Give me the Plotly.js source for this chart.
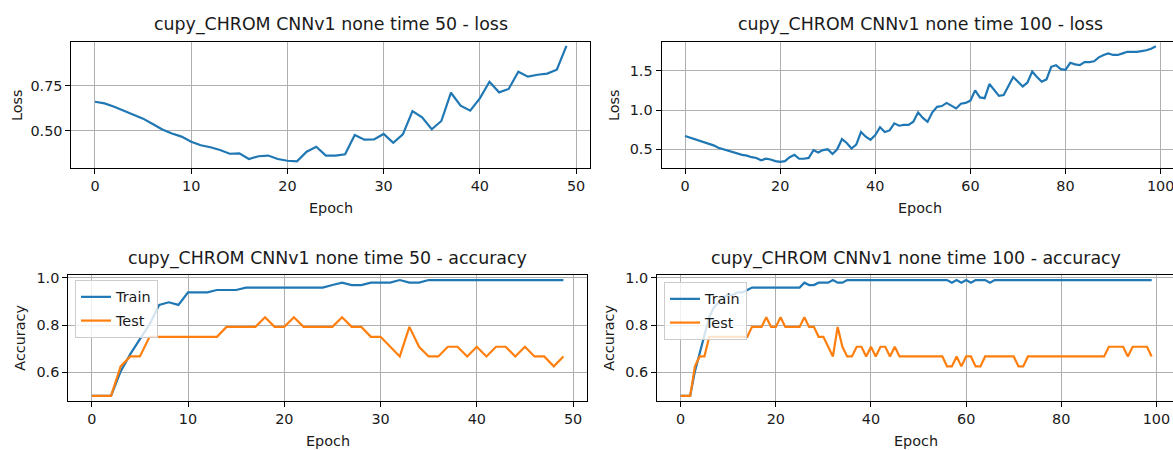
<!DOCTYPE html>
<html>
<head>
<meta charset="utf-8">
<script src="https://cdn.plot.ly/plotly-3.0.1.min.js"></script>
<style>
  html, body { margin: 0; padding: 0; background: #ffffff; }
  #chart { width: 1173px; height: 450px; }
</style>
</head>
<body>
<div id="chart"></div>
<script>
// ---- training history: loss and accuracy per epoch ----
const lossRun50 = [
  0.661, 0.652, 0.633, 0.611, 0.589, 0.567, 0.537, 0.507, 0.484, 0.467,
  0.439, 0.419, 0.408, 0.393, 0.372, 0.374, 0.343, 0.358, 0.362, 0.343,
  0.333, 0.330, 0.383, 0.411, 0.362, 0.362, 0.369, 0.476, 0.450, 0.452,
  0.482, 0.433, 0.480, 0.609, 0.574, 0.508, 0.554, 0.711, 0.639, 0.611,
  0.680, 0.772, 0.713, 0.732, 0.828, 0.800, 0.811, 0.817, 0.839, 0.971
];

const lossRun100 = [
  0.67, 0.65, 0.63, 0.61, 0.59, 0.57, 0.55, 0.52, 0.50, 0.48,
  0.46, 0.44, 0.43, 0.42, 0.40, 0.39, 0.36, 0.38, 0.37, 0.35,
  0.34, 0.35, 0.40, 0.43, 0.38, 0.38, 0.39, 0.49, 0.46, 0.49,
  0.50, 0.44, 0.50, 0.63, 0.58, 0.51, 0.56, 0.72, 0.66, 0.62,
  0.68, 0.78, 0.72, 0.74, 0.83, 0.80, 0.81, 0.81, 0.85, 0.97,
  0.90, 0.85, 0.97, 1.04, 1.05, 1.09, 1.06, 1.02, 1.08, 1.09,
  1.12, 1.25, 1.16, 1.15, 1.33, 1.25, 1.18, 1.19, 1.30, 1.42,
  1.36, 1.30, 1.35, 1.49, 1.42, 1.36, 1.39, 1.55, 1.57, 1.52,
  1.51, 1.60, 1.58, 1.57, 1.61, 1.61, 1.62, 1.67, 1.70, 1.72,
  1.70, 1.70, 1.72, 1.74, 1.74, 1.74, 1.75, 1.76, 1.78, 1.81
];

const trainAccRun50 = [
  0.500, 0.500, 0.500, 0.604, 0.677, 0.740, 0.802, 0.885, 0.896, 0.885,
  0.938, 0.938, 0.938, 0.948, 0.948, 0.948, 0.958, 0.958, 0.958, 0.958,
  0.958, 0.958, 0.958, 0.958, 0.958, 0.969, 0.979, 0.969, 0.969, 0.979,
  0.979, 0.979, 0.990, 0.979, 0.979, 0.990, 0.990, 0.990, 0.990, 0.990,
  0.990, 0.990, 0.990, 0.990, 0.990, 0.990, 0.990, 0.990, 0.990, 0.990
];

const testAccRun50 = [
  0.500, 0.500, 0.500, 0.625, 0.667, 0.667, 0.750, 0.750, 0.750, 0.750,
  0.750, 0.750, 0.750, 0.750, 0.792, 0.792, 0.792, 0.792, 0.833, 0.792,
  0.792, 0.833, 0.792, 0.792, 0.792, 0.792, 0.833, 0.792, 0.792, 0.750,
  0.750, 0.708, 0.667, 0.792, 0.708, 0.667, 0.667, 0.708, 0.708, 0.667,
  0.708, 0.667, 0.708, 0.708, 0.667, 0.708, 0.667, 0.667, 0.625, 0.667
];

const trainAccRun100 = [
  0.500, 0.500, 0.500, 0.604, 0.677, 0.750, 0.833, 0.875, 0.896, 0.917,
  0.927, 0.927, 0.938, 0.938, 0.948, 0.958, 0.958, 0.958, 0.958, 0.958,
  0.958, 0.958, 0.958, 0.958, 0.958, 0.958, 0.979, 0.969, 0.969, 0.979,
  0.979, 0.979, 0.990, 0.979, 0.979, 0.990, 0.990, 0.990, 0.990, 0.990,
  0.990, 0.990, 0.990, 0.990, 0.990, 0.990, 0.990, 0.990, 0.990, 0.990,
  0.990, 0.990, 0.990, 0.990, 0.990, 0.990, 0.990, 0.979, 0.990, 0.979,
  0.990, 0.979, 0.990, 0.990, 0.990, 0.979, 0.990, 0.990, 0.990, 0.990,
  0.990, 0.990, 0.990, 0.990, 0.990, 0.990, 0.990, 0.990, 0.990, 0.990,
  0.990, 0.990, 0.990, 0.990, 0.990, 0.990, 0.990, 0.990, 0.990, 0.990,
  0.990, 0.990, 0.990, 0.990, 0.990, 0.990, 0.990, 0.990, 0.990, 0.990
];

const testAccRun100 = [
  0.500, 0.500, 0.500, 0.625, 0.667, 0.667, 0.750, 0.750, 0.750, 0.750,
  0.750, 0.750, 0.750, 0.750, 0.750, 0.792, 0.792, 0.792, 0.833, 0.792,
  0.792, 0.833, 0.792, 0.792, 0.792, 0.792, 0.833, 0.792, 0.792, 0.750,
  0.750, 0.708, 0.667, 0.792, 0.708, 0.667, 0.667, 0.708, 0.708, 0.667,
  0.708, 0.667, 0.708, 0.708, 0.667, 0.708, 0.667, 0.667, 0.667, 0.667,
  0.667, 0.667, 0.667, 0.667, 0.667, 0.667, 0.625, 0.625, 0.667, 0.625,
  0.667, 0.667, 0.625, 0.625, 0.667, 0.667, 0.667, 0.667, 0.667, 0.667,
  0.667, 0.625, 0.625, 0.667, 0.667, 0.667, 0.667, 0.667, 0.667, 0.667,
  0.667, 0.667, 0.667, 0.667, 0.667, 0.667, 0.667, 0.667, 0.667, 0.667,
  0.708, 0.708, 0.708, 0.708, 0.667, 0.708, 0.708, 0.708, 0.708, 0.667
];

// ---- labels ----
const panelTitles = [
  "cupy_CHROM CNNv1 none time 50 - loss",
  "cupy_CHROM CNNv1 none time 100 - loss",
  "cupy_CHROM CNNv1 none time 50 - accuracy",
  "cupy_CHROM CNNv1 none time 100 - accuracy"
];
const seriesNames = ["Train", "Test"];
const xLabel = "Epoch";
const yLabels = ["Loss", "Accuracy"];
const xTicks50 = [0, 10, 20, 30, 40, 50];
const xTicks100 = [0, 20, 40, 60, 80, 100];
const lossTicks50 = [0.50, 0.75];
const lossTickText50 = ["0.50", "0.75"];
const lossTicks100 = [0.5, 1.0, 1.5];
const lossTickText100 = ["0.5", "1.0", "1.5"];
const accTicks = [0.6, 0.8, 1.0];
const accTickText = ["0.6", "0.8", "1.0"];

// ---- drawing ----
const W = 1173, H = 450;
const FONT = "DejaVu Sans, Liberation Sans, Arial, sans-serif";
const INK = "#1a1a1a";
const BLUE = "#1f77b4", ORANGE = "#ff7f0e";
const TITLE_SIZE = 17.4, TEXT_SIZE = 14.4;
const px = v => v / W;          // horizontal pixel -> paper fraction
const py = v => 1 - v / H;      // vertical pixel -> paper fraction
const epochsOf = arr => arr.map((_, i) => i);

function axisStyle(extra) {
  return Object.assign({
    showgrid: true, gridcolor: "#b0b0b0", gridwidth: 1,
    showline: true, linecolor: "#000000", linewidth: 1, mirror: true,
    ticks: "outside", ticklen: 5, tickwidth: 1, tickcolor: "#000000",
    zeroline: false, tickfont: { family: FONT, size: TEXT_SIZE, color: INK },
    ticklabeloverflow: "allow", fixedrange: true
  }, extra);
}

function line(x, y, color, xa, ya, extra) {
  return Object.assign({
    type: "scatter", mode: "lines", x: x, y: y,
    xaxis: xa, yaxis: ya,
    line: { color: color, width: 2.2 },
    showlegend: false, hoverinfo: "skip"
  }, extra);
}

const traces = [
  line(epochsOf(lossRun50), lossRun50, BLUE, "x", "y"),
  line(epochsOf(lossRun100), lossRun100, BLUE, "x2", "y2"),
  line(epochsOf(trainAccRun50), trainAccRun50, BLUE, "x3", "y3",
       { name: seriesNames[0], showlegend: true, legend: "legend", legendgroup: "a" }),
  line(epochsOf(testAccRun50), testAccRun50, ORANGE, "x3", "y3",
       { name: seriesNames[1], showlegend: true, legend: "legend", legendgroup: "b" }),
  line(epochsOf(trainAccRun100), trainAccRun100, BLUE, "x4", "y4",
       { name: seriesNames[0], showlegend: true, legend: "legend2", legendgroup: "c" }),
  line(epochsOf(testAccRun100), testAccRun100, ORANGE, "x4", "y4",
       { name: seriesNames[1], showlegend: true, legend: "legend2", legendgroup: "d" })
];

function label(text, x, y, size, angle) {
  return {
    text: text, xref: "paper", yref: "paper", x: px(x), y: py(y),
    xanchor: "center", yanchor: "middle", showarrow: false,
    textangle: angle || 0,
    font: { family: FONT, size: size, color: INK }
  };
}

const legendStyle = {
  bgcolor: "rgba(255,255,255,0.8)", bordercolor: "#cccccc", borderwidth: 1,
  font: { family: FONT, size: TEXT_SIZE, color: INK },
  xanchor: "left", yanchor: "top", tracegroupgap: 2
};

const layout = {
  width: W, height: H,
  margin: { l: 0, r: 0, t: 0, b: 0 },
  paper_bgcolor: "#ffffff", plot_bgcolor: "#ffffff",
  font: { family: FONT, color: INK },
  xaxis:  axisStyle({ domain: [px(71.4), px(590)], anchor: "y", range: [-2.45, 51.45], tickvals: xTicks50 }),
  yaxis:  axisStyle({ domain: [py(168), py(42)], anchor: "x", range: [0.2928, 0.9928],
                      tickvals: lossTicks50, ticktext: lossTickText50 }),
  xaxis2: axisStyle({ domain: [px(661.5), 1], anchor: "y2", range: [-4.95, 102.6], tickvals: xTicks100 }),
  yaxis2: axisStyle({ domain: [py(167.7), py(42)], anchor: "x2", range: [0.266, 1.865], mirror: false,
                      tickvals: lossTicks100, ticktext: lossTickText100 }),
  xaxis3: axisStyle({ domain: [px(68.2), px(587)], anchor: "y3", range: [-2.45, 51.45], tickvals: xTicks50 }),
  yaxis3: axisStyle({ domain: [py(401), py(274.5)], anchor: "x3", range: [0.4787, 1.0135],
                      tickvals: accTicks, ticktext: accTickText }),
  xaxis4: axisStyle({ domain: [px(657.1), 1], anchor: "y4", range: [-4.95, 103.48], tickvals: xTicks100 }),
  yaxis4: axisStyle({ domain: [py(401), py(274.5)], anchor: "x4", range: [0.4787, 1.0135], mirror: false,
                      tickvals: accTicks, ticktext: accTickText }),
  legend:  Object.assign({ x: px(75), y: py(280) }, legendStyle),
  legend2: Object.assign({ x: px(664), y: py(282) }, legendStyle),
  annotations: [
    label(panelTitles[0], 330.7, 24, TITLE_SIZE),
    label(panelTitles[1], 920, 24, TITLE_SIZE),
    label(panelTitles[2], 327.6, 258, TITLE_SIZE),
    label(panelTitles[3], 916.2, 258, TITLE_SIZE),
    label(xLabel, 330.7, 208, TEXT_SIZE),
    label(xLabel, 920, 208, TEXT_SIZE),
    label(xLabel, 327.6, 441, TEXT_SIZE),
    label(xLabel, 916.2, 441, TEXT_SIZE),
    label(yLabels[0], 17, 105, TEXT_SIZE, -90),
    label(yLabels[0], 614, 105, TEXT_SIZE, -90),
    label(yLabels[1], 20, 337.7, TEXT_SIZE, -90),
    label(yLabels[1], 609, 337.7, TEXT_SIZE, -90)
  ]
};

Plotly.newPlot("chart", traces, layout, { displayModeBar: false, staticPlot: true });
</script>
</body>
</html>
